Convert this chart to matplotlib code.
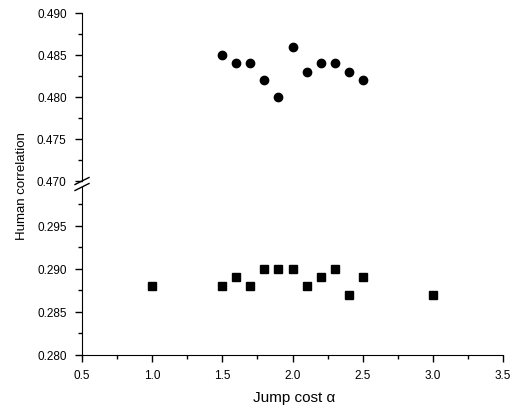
import numpy as np
import matplotlib
matplotlib.use("Agg")
import matplotlib.pyplot as plt
from matplotlib.lines import Line2D
from matplotlib.ticker import MultipleLocator

plt.rcParams['font.family'] = ['Liberation Sans', 'DejaVu Sans']

# upper group (circles)
x_circ = [1.5, 1.6, 1.7, 1.8, 1.9, 2.0, 2.1, 2.2, 2.3, 2.4, 2.5]
y_circ = [0.485, 0.484, 0.484, 0.482, 0.480, 0.486, 0.483, 0.484, 0.484, 0.483, 0.482]

# lower group (squares)
x_sq = [1.0, 1.5, 1.6, 1.7, 1.8, 1.9, 2.0, 2.1, 2.2, 2.3, 2.4, 2.5, 3.0]
y_sq = [0.288, 0.288, 0.289, 0.288, 0.290, 0.290, 0.290, 0.288, 0.289, 0.290, 0.287, 0.289, 0.287]

top_ticks = [0.470, 0.475, 0.480, 0.485, 0.490]
low_ticks = [0.280, 0.285, 0.290, 0.295]
x_ticks = [0.5, 1.0, 1.5, 2.0, 2.5, 3.0, 3.5]

W, H = 516, 410
fig = plt.figure(figsize=(W / 100, H / 100), dpi=100)

left = 82 / W
width = (503 - 82) / W
ax_top = fig.add_axes([left, (H - 182) / H, width, 168 / H])
ax_low = fig.add_axes([left, (H - 356) / H, width, 168 / H])

for ax in (ax_top, ax_low):
    ax.set_xlim(0.5, 3.5)
    ax.spines['top'].set_visible(False)
    ax.spines['right'].set_visible(False)
    ax.tick_params(which='major', direction='out', length=5, width=1, labelsize=8.5)
    ax.tick_params(which='minor', direction='out', length=3, width=1)
    ax.tick_params(axis='y', which='major', pad=6)
    ax.yaxis.set_minor_locator(MultipleLocator(0.0025))

ax_top.plot(x_circ, y_circ, 'o', color='black', markersize=6, clip_on=False)
ax_top.set_ylim(0.470, 0.490)
ax_top.set_yticks(top_ticks)
ax_top.set_yticklabels([f'{v:.3f}' for v in top_ticks])
ax_top.spines['bottom'].set_visible(False)
ax_top.tick_params(axis='x', which='both', bottom=False, labelbottom=False)

ax_low.plot(x_sq, y_sq, 's', color='black', markersize=5.5, clip_on=False)
ax_low.set_ylim(0.280, 0.2995)
ax_low.set_yticks(low_ticks)
ax_low.set_yticklabels([f'{v:.3f}' for v in low_ticks])
ax_low.set_xticks(x_ticks)
ax_low.set_xticklabels([f'{v:.1f}' for v in x_ticks])
ax_low.xaxis.set_minor_locator(MultipleLocator(0.25))
ax_low.tick_params(axis='x', which='major', pad=5)

# break marks on the y axis between the two ranges
x0, yb = ax_top.transAxes.transform((0, 0))
_, yt = ax_low.transAxes.transform((0, 1))
for yc in (yb, yt):
    fig.add_artist(Line2D([x0 - 7, x0 + 7], [yc - 3.5, yc + 3.5], transform=None,
                          color='black', lw=1))

fig.text(22 / W, (H - 186) / H, 'Human correlation', rotation=90, ha='center', va='center',
         fontsize=9.5)
fig.text(294 / W, 12 / H, 'Jump cost α', ha='center', va='center', fontsize=11)

fig.savefig('out.png', dpi=100)
